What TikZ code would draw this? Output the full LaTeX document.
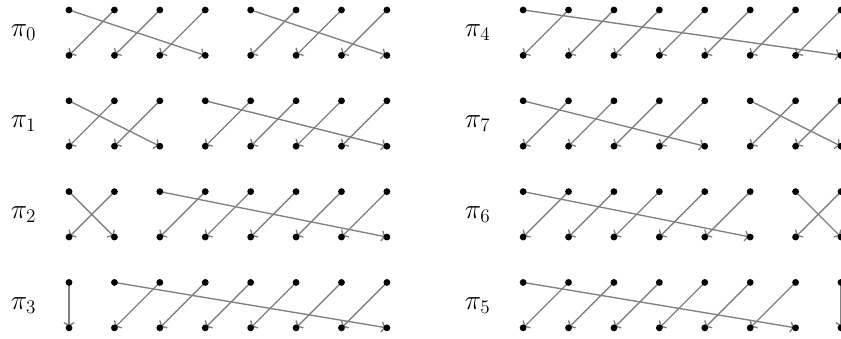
\documentclass[tikz,border=0pt]{standalone}
\usetikzlibrary{arrows.meta}
\pgfdeclarelayer{bg}
\pgfsetlayers{bg,main}
\begin{document}
\begin{tikzpicture}[x=1cm,y=1cm,
  dot/.style={circle,fill=black,inner sep=0pt,minimum size=0.15cm},
  arr/.style={-{To[length=3.6pt,width=7pt]}, draw=gray, line width=0.85pt},
  lab/.style={font=\fontsize{16.5}{20}\selectfont, inner sep=0pt}]
\useasboundingbox (-1.52,0.22) rectangle (17.0,-7.24);
\clip (-1.52,0.22) rectangle (17.0,-7.24);
% dots
\foreach \r in {0,1,2,3}{
  \foreach \c in {0,1,2,3,4,5,6,7,10,11,12,13,14,15,16,17}{
    \node[dot] (t-\r-\c) at (\c,-2*\r) {};
    \node[dot] (b-\r-\c) at (\c,-2*\r-1) {};
  }
}
% labels
\node[lab] (l0) at (-1,-0.5) {$\pi_0$};
\node[lab] (l1) at (-1,-2.5) {$\pi_1$};
\node[lab] (l2) at (-1,-4.5) {$\pi_2$};
\node[lab] (l3) at (-1,-6.5) {$\pi_3$};
\node[lab] (l4) at (9,-0.5) {$\pi_4$};
\node[lab] (l7) at (9,-2.5) {$\pi_7$};
\node[lab] (l6) at (9,-4.5) {$\pi_6$};
\node[lab] (l5) at (9,-6.5) {$\pi_5$};
% arrows
\begin{pgfonlayer}{bg}
\foreach \r/\s/\L in {0/0/4, 0/4/4, 1/0/3, 1/3/5, 2/0/2, 2/2/6, 3/0/1, 3/1/7,
                      0/10/8, 1/10/5, 1/15/3, 2/10/6, 2/16/2, 3/10/7, 3/17/1}{
  \pgfmathtruncatemacro\e{\s+\L-1}
  \pgfmathtruncatemacro\f{\s+1}
  \draw[arr] (t-\r-\s.center) -- (b-\r-\e.center);
  \ifnum\L>1
    \foreach \k in {\f,...,\e}{
      \pgfmathtruncatemacro\km{\k-1}
      \draw[arr] (t-\r-\k.center) -- (b-\r-\km.center);
    }
  \fi
}
\end{pgfonlayer}
\end{tikzpicture}
\end{document}
